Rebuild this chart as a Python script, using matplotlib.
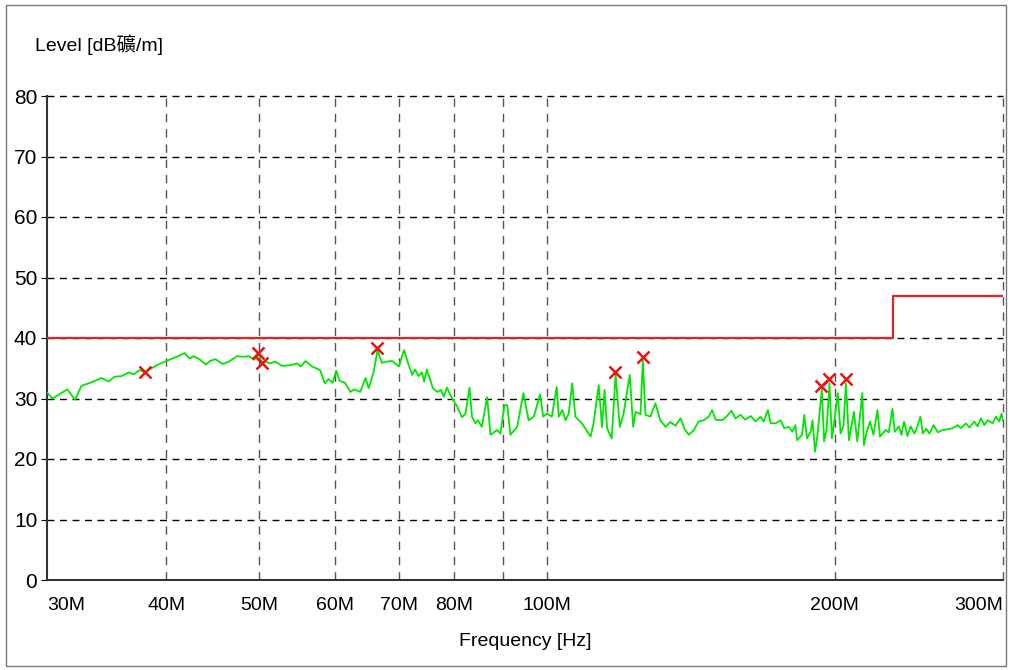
import numpy as np
import matplotlib.pyplot as plt
from matplotlib.patches import Rectangle
from matplotlib.ticker import FixedLocator, NullLocator

plt.rcParams['font.family'] = ['Liberation Sans Narrow', 'Liberation Sans', 'Noto Sans CJK TC', 'DejaVu Sans']

# scan trace (MHz, dB)
freq_mhz = [30.0, 30.4, 31.5, 32.1, 32.6, 33.3, 34.2, 34.8, 35.3, 35.9, 36.5, 37.0, 37.5, 38.0, 38.4,
            39.2, 40.0, 41.0, 41.8, 42.3, 42.7, 43.3, 44.0, 44.4, 45.0, 45.8, 46.5, 47.4, 48.1, 48.8,
            49.4, 49.9, 50.4, 50.9, 51.3, 52.0, 52.8, 53.9, 54.8, 55.3, 55.9, 56.8, 57.9, 58.6, 59.1,
            59.7, 60.2, 60.7, 61.5, 62.3, 62.9, 63.8, 64.6, 65.1, 65.9, 66.5, 67.2, 68.0, 68.9, 70.0,
            70.9, 71.4, 72.3, 72.8, 73.4, 74.0, 74.4, 74.9, 76.0, 76.8, 77.5, 78.0, 78.6, 79.6, 80.5,
            81.5, 82.2, 83.0, 83.5, 84.2, 84.7, 85.5, 86.6, 87.3, 88.7, 89.4, 90.3, 90.9, 91.6, 93.1,
            94.5, 95.7, 96.9, 98.4, 99.1, 100.0, 101.2, 102.4, 102.9, 103.8, 104.6, 105.4, 106.3, 107.1,
            108.8, 111.1, 111.9, 113.3, 114.2, 114.9, 115.6, 116.9, 118.0, 119.2, 120.3, 122.1, 123.1,
            123.8, 125.3, 126.0, 126.8, 128.3, 129.9, 131.4, 133.1, 134.6, 136.3, 138.0, 139.3, 140.7,
            142.4, 144.1, 145.9, 147.7, 148.9, 150.1, 152.5, 154.1, 156.0, 157.5, 159.4, 161.2, 163.4,
            165.3, 167.3, 168.6, 170.3, 171.4, 173.5, 175.6, 177.1, 179.2, 180.6, 182.0, 182.7, 184.9,
            185.9, 187.1, 188.8, 189.6, 190.8, 191.9, 193.9, 195.0, 196.2, 197.5, 198.7, 199.8, 201.5,
            202.9, 204.3, 205.5, 207.0, 209.5, 211.2, 213.8, 214.6, 216.1, 217.8, 219.6, 221.7, 223.1,
            226.2, 227.8, 229.9, 231.1, 233.5, 234.9, 236.4, 238.3, 240.2, 242.3, 244.1, 245.9, 247.3,
            249.3, 251.3, 253.9, 256.4, 259.5, 262.5, 265.7, 268.9, 271.1, 274.4, 276.6, 279.9, 282.2,
            284.5, 286.8, 289.1, 292.6, 295.0, 297.3, 299.0, 300.0]
level_db = [31.0, 30.0, 31.5, 29.8, 32.1, 32.6, 33.4, 32.8, 33.6, 33.7, 34.3, 34.0, 34.7, 34.3, 34.8,
            35.6, 36.2, 36.9, 37.5, 36.6, 37.0, 36.5, 35.6, 36.2, 36.5, 35.7, 36.1, 37.0, 36.9, 37.0,
            36.4, 37.3, 35.9, 36.1, 35.8, 36.1, 35.4, 35.5, 35.8, 35.3, 36.2, 35.3, 34.7, 32.5, 33.2,
            32.6, 34.6, 32.9, 32.6, 31.1, 31.5, 31.1, 33.4, 31.7, 34.4, 38.0, 35.9, 36.1, 36.2, 35.3,
            38.0, 36.4, 33.9, 34.8, 33.7, 34.3, 32.8, 34.8, 31.7, 31.1, 31.4, 30.3, 31.8, 30.0, 28.8,
            26.9, 27.5, 31.8, 27.0, 25.9, 26.4, 25.3, 30.2, 24.0, 24.8, 24.2, 28.9, 28.9, 24.0, 25.3,
            30.9, 26.4, 27.0, 30.7, 27.0, 27.5, 27.0, 31.9, 27.0, 28.1, 26.4, 27.5, 32.5, 27.0,
            25.9, 23.7, 25.9, 32.2, 25.3, 31.4, 25.1, 23.4, 34.0, 25.3, 27.5, 33.9, 25.3,
            27.8, 27.4, 36.3, 27.3, 27.0, 29.2, 26.4, 25.3, 26.1, 25.5, 26.7, 25.0, 24.0,
            24.7, 26.2, 26.4, 27.0, 28.1, 26.5, 26.4, 27.0, 28.0, 26.7, 27.3, 26.5, 27.1,
            26.2, 27.0, 26.2, 28.1, 25.9, 25.9, 26.4, 25.1, 25.3, 24.5, 25.6, 23.1, 24.0,
            27.3, 23.4, 24.5, 26.4, 21.2, 24.0, 31.5, 22.9, 25.0, 32.5, 23.4, 26.2, 30.9,
            24.2, 25.5, 32.5, 23.1, 27.8, 22.9, 30.9, 22.3, 24.5, 26.2, 24.0, 28.1, 23.7,
            24.8, 24.4, 28.3, 24.5, 25.4, 24.0, 26.2, 23.8, 25.4, 24.2, 25.4, 27.0, 24.2,
            25.0, 24.2, 25.6, 24.4, 24.8, 24.9, 25.1, 25.6, 25.1, 25.9, 25.2, 26.2, 25.4,
            26.7, 25.6, 26.4, 25.9, 27.0, 26.2, 27.5, 26.4]

# limit line
limit_freq = [30, 230, 230, 300]
limit_db = [40, 40, 47, 47]

# final measurement markers
marker_freq = [38.0, 49.9, 50.4, 66.5, 117.9, 126.0, 193.6, 197.5, 205.4]
marker_db = [34.4, 37.5, 35.9, 38.3, 34.4, 36.9, 32.1, 33.2, 33.3]

xticks = [30, 40, 50, 60, 70, 80, 100, 200, 300]
xtick_labels = ['30M', '40M', '50M', '60M', '70M', '80M', '100M', '200M', '300M']
xgrid = [40, 50, 60, 70, 80, 90, 100, 200, 300]
yticks = [0, 10, 20, 30, 40, 50, 60, 70, 80]

fig = plt.figure(figsize=(10.09, 6.70), dpi=100)
ax = fig.add_axes([47/1009, 1-580/670, 956/1009, 484/670])

for g in xgrid:
    ax.axvline(g, color='#555555', lw=1.0, ls=(0, (6, 5)), zorder=1, clip_on=False)
for g in yticks[1:]:
    ax.axhline(g, color='black', lw=1.0, ls=(0, (5, 4)), zorder=1, clip_on=False)

ax.plot(freq_mhz, level_db, color='#00e600', lw=1.3, zorder=3)
ax.plot(limit_freq, limit_db, color='#e02424', lw=1.6, zorder=4)
ax.plot(marker_freq, marker_db, ls='none', marker='x', ms=8, mew=1.8, color='#ee1111', zorder=5)

ax.set_xscale('log')
ax.set_xlim(30, 300)
ax.set_ylim(0, 80)
ax.xaxis.set_major_locator(FixedLocator(xticks))
ax.xaxis.set_minor_locator(NullLocator())
ax.set_xticklabels(xtick_labels)
ax.set_yticks(yticks)
ax.tick_params(axis='x', length=0, pad=12, labelsize=14)
ax.tick_params(axis='y', length=4, pad=3, labelsize=15)
labels = ax.get_xticklabels()
labels[0].set_ha('left')
labels[-1].set_ha('right')

for s in ['top', 'right']:
    ax.spines[s].set_visible(False)
for s in ['left', 'bottom']:
    ax.spines[s].set_color('#333333')
    ax.spines[s].set_linewidth(1.5)

ax.set_xlabel('Frequency [Hz]', fontsize=14, labelpad=14)
fig.text(35/1009, 1-45/670, 'Level [dB礦/m]', fontsize=14, ha='left', va='center')

fig.patches.append(Rectangle((6/1009, 4/670), 1000/1009, 661/670, transform=fig.transFigure,
                             fill=False, edgecolor='#777777', lw=1.0))

fig.savefig('out.png', dpi=100)
